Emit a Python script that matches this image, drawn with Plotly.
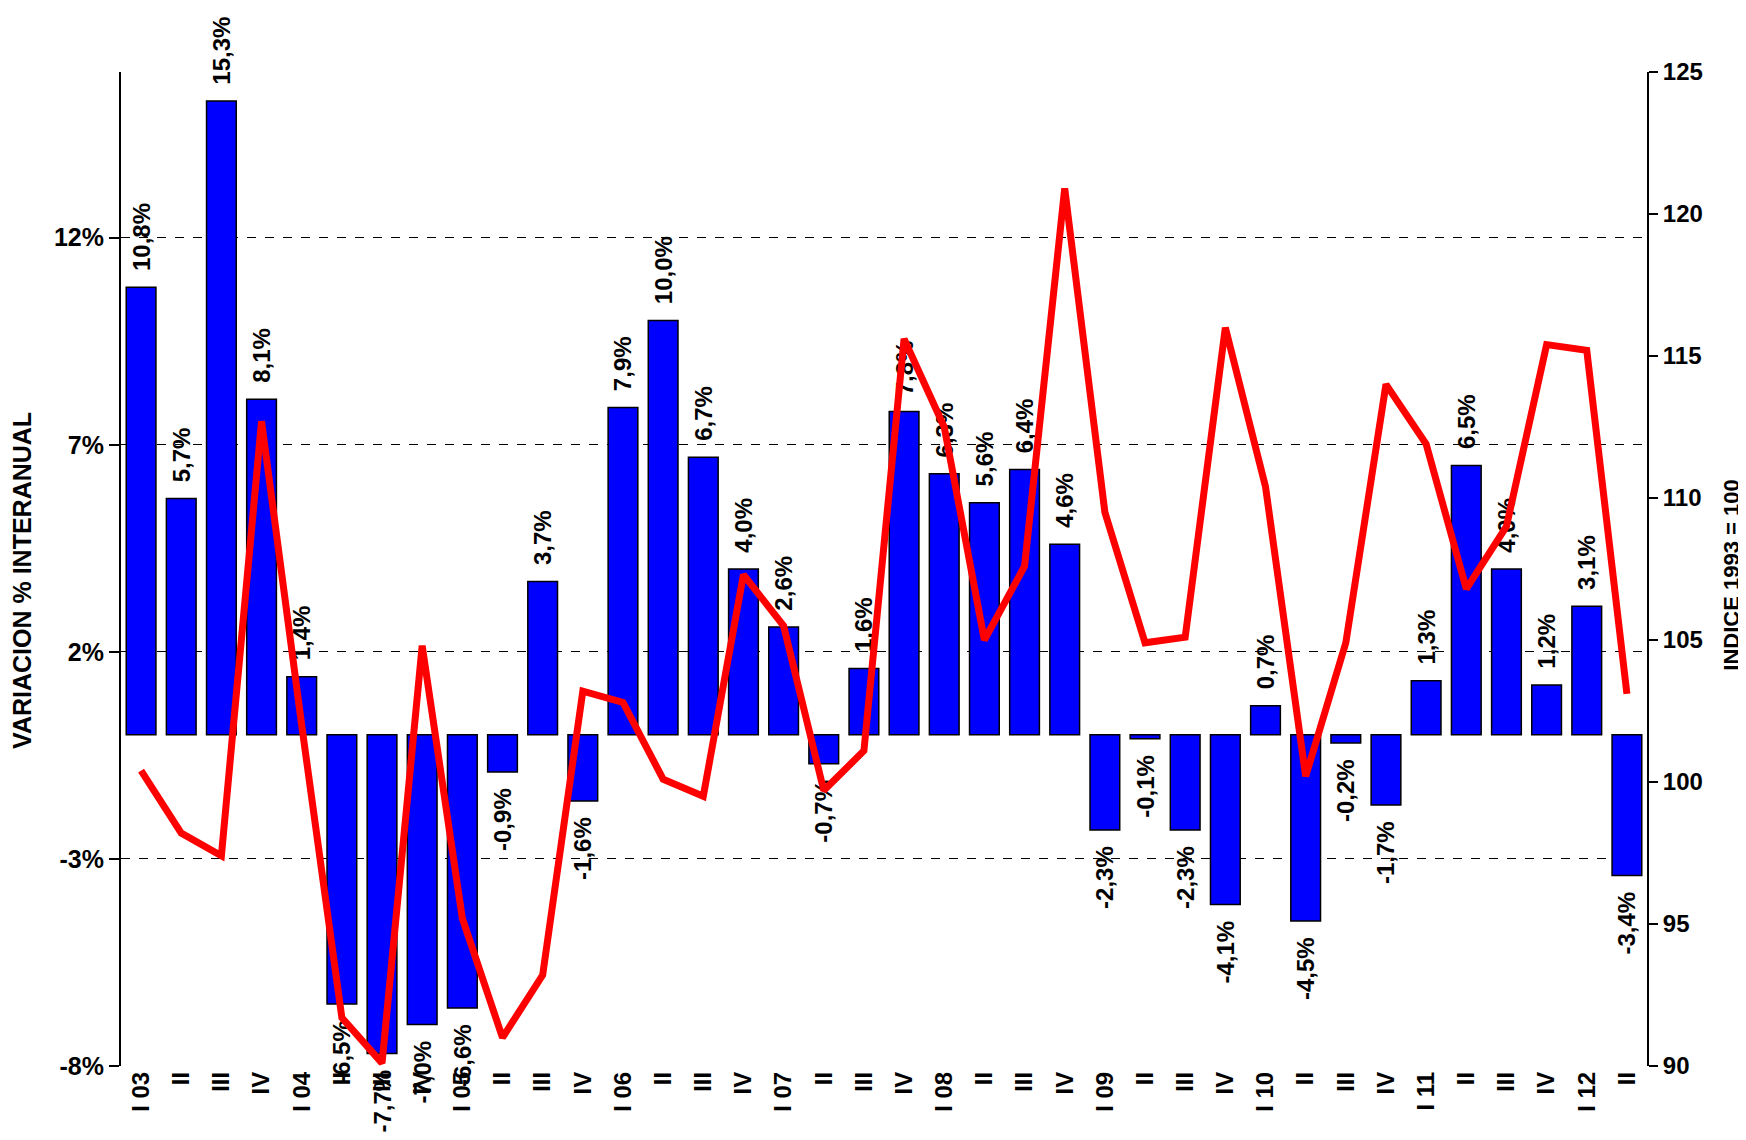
import plotly.graph_objects as go

# ---- data ----
quarters = ["I 03", "II", "III", "IV", "I 04", "II", "III", "IV", "I 05", "II", "III", "IV",
            "I 06", "II", "III", "IV", "I 07", "II", "III", "IV", "I 08", "II", "III", "IV",
            "I 09", "II", "III", "IV", "I 10", "II", "III", "IV", "I 11", "II", "III", "IV",
            "I 12", "II"]
variacion = [10.8, 5.7, 15.3, 8.1, 1.4, -6.5, -7.7, -7.0, -6.6, -0.9, 3.7, -1.6,
             7.9, 10.0, 6.7, 4.0, 2.6, -0.7, 1.6, 7.8, 6.3, 5.6, 6.4, 4.6,
             -2.3, -0.1, -2.3, -4.1, 0.7, -4.5, -0.2, -1.7, 1.3, 6.5, 4.0, 1.2,
             3.1, -3.4]
indice = [100.4, 98.2, 97.4, 112.7, 102.0, 91.7, 90.1, 104.8, 95.2, 91.0, 93.2, 103.2,
          102.8, 100.1, 99.5, 107.3, 105.5, 99.7, 101.1, 115.6, 112.5, 105.0, 107.6, 120.9,
          109.5, 104.9, 105.1, 116.0, 110.4, 100.2, 104.9, 114.0, 111.9, 106.8, 109.0, 115.4,
          115.2, 103.1]
left_ticks = [-8, -3, 2, 7, 12]
left_ticktext = ["-8%", "-3%", "2%", "7%", "12%"]
right_ticks = [90, 95, 100, 105, 110, 115, 120, 125]

FONT = "Liberation Sans, Arial, sans-serif"
NB = "\u00a0"

xs = list(range(len(quarters)))
labels = []
for v in variacion:
    t = f"{v:.1f}".replace(".", ",") + "%"
    labels.append(NB * 2 + t if v >= 0 else t + NB * 2)

# boundaries between years (before each "I xx" quarter)
year_bounds = [i - 0.5 for i, q in enumerate(quarters) if q.startswith("I ") and i > 0]

fig = go.Figure()
fig.add_trace(go.Bar(
    x=xs, y=variacion, width=0.74,
    marker=dict(color="#0000FF", line=dict(color="black", width=1.5)),
    text=labels, textposition="outside", textangle=-90,
    textfont=dict(family=FONT, size=24, color="black", weight=700),
    constraintext="none", cliponaxis=False, showlegend=False,
))
fig.add_trace(go.Scatter(
    x=xs, y=indice, yaxis="y2", mode="lines",
    line=dict(color="#FF0000", width=7), showlegend=False,
))

fig.update_layout(
    width=1738, height=1132,
    margin=dict(l=113, r=99, t=64, b=74),
    plot_bgcolor="white", paper_bgcolor="white",
    font=dict(family=FONT, color="black"),
    xaxis=dict(
        range=[-0.5, len(quarters) - 0.5], tickmode="array", tickvals=xs,
        ticktext=[f"<b>{q}</b>" for q in quarters],
        tickangle=-90, tickfont=dict(size=24, weight=700), ticks="", showline=False,
        showgrid=False, zeroline=False, automargin=False,
    ),
    xaxis2=dict(
        overlaying="x", anchor="free", position=(0 - left_ticks[0]) / (16 - left_ticks[0]),
        range=[-0.5, len(quarters) - 0.5], tickmode="array", tickvals=year_bounds,
        ticks="outside", ticklen=7, tickcolor="black", tickwidth=1.5,
        showticklabels=False, showline=True, linecolor="black", linewidth=2,
        showgrid=False, zeroline=False, side="bottom",
    ),
    yaxis=dict(
        range=[-8, 16], tickmode="array", tickvals=left_ticks,
        ticktext=[f"<b>{t}</b>" for t in left_ticktext],
        tickfont=dict(size=25, weight=700), ticks="outside", ticklen=10, tickcolor="black",
        tickwidth=1.5, showline=True, linecolor="black", linewidth=2,
        showgrid=True, gridcolor="black", griddash="dash", gridwidth=1,
        zeroline=False, automargin=False,
    ),
    yaxis2=dict(
        range=[90, 125], overlaying="y", side="right", tickmode="array", tickvals=right_ticks,
        ticktext=[f"<b>{t}</b>" for t in right_ticks],
        tickfont=dict(size=24, weight=700), ticks="outside", ticklen=9, tickcolor="black",
        tickwidth=1.5, showline=True, linecolor="black", linewidth=2,
        showgrid=False, zeroline=False, automargin=False,
    ),
    annotations=[
        dict(text="<b>VARIACION % INTERANUAL</b>", xref="paper", yref="paper", x=-0.0649, y=0.489,
             xanchor="center", yanchor="middle", textangle=-90, showarrow=False,
             font=dict(size=25, weight=700, family=FONT)),
        dict(text="<b>INDICE 1993 = 100</b>", xref="paper", yref="paper", x=1.0555, y=0.494,
             xanchor="center", yanchor="middle", textangle=-90, showarrow=False,
             font=dict(size=22, weight=700, family=FONT)),
    ],
)

fig.write_html("out.html")
